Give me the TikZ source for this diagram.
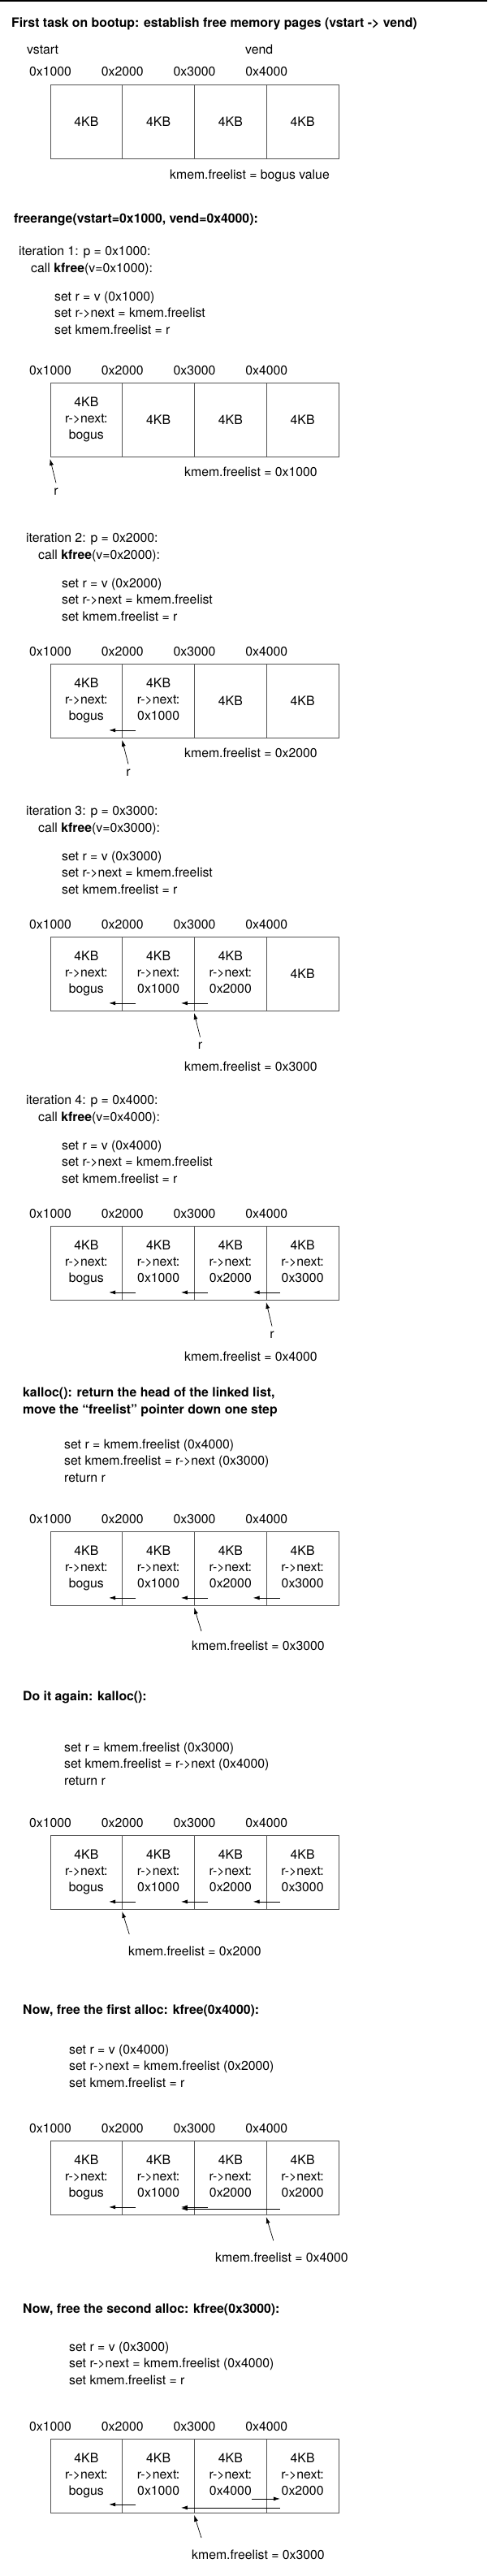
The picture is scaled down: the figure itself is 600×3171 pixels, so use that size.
\documentclass[tikz,border=0pt]{standalone}
\usepackage{fontspec}
\setmainfont{TeX Gyre Heros}
\usetikzlibrary{arrows.meta}
\definecolor{pageline}{RGB}{85,85,85}

% one row of four 4KB pages with their start addresses
\newcommand{\pagerow}[6]{%
  \node[page] (#1a) at (106.375,#2+45.75) {#3};
  \node[page] (#1b) at (195.125,#2+45.75) {#4};
  \node[page] (#1c) at (283.875,#2+45.75) {#5};
  \node[page] (#1d) at (372.625,#2+45.75) {#6};
  \node[addr] (#1x1) at (62,#2-10) {0x1000};
  \node[addr] (#1x2) at (150.75,#2-10) {0x2000};
  \node[addr] (#1x3) at (239.5,#2-10) {0x3000};
  \node[addr] (#1x4) at (328.25,#2-10) {0x4000};
}
\newcommand{\cellstrut}{\rule[-4pt]{0pt}{20pt}}

\begin{document}
\begin{tikzpicture}[x=1pt,y=-1pt,
  font=\fontsize{15.8}{20.3}\selectfont,
  page/.style={draw=pageline,line width=0.8pt,minimum width=88.75pt,minimum height=91.5pt,inner sep=0pt,align=center,
    execute at begin node=\cellstrut,execute at end node=\cellstrut},
  addr/.style={anchor=base,inner sep=0pt},
  txt/.style={anchor=base west,inner sep=0pt,align=left},
  rlab/.style={inner sep=6pt},
  ptr/.style={-{Latex[length=8pt,width=5pt]},line width=0.7pt}]
\useasboundingbox (0,0) rectangle (600,3171);
\fill (0,0) rectangle (600,2.5);

% Bootup (multi-line texts are placed at their last baseline)
\node[txt] (title) at (14,34) {\textbf{First task on bootup: establish free memory pages (vstart -> vend)}};
\node[txt] (vstart) at (33,67) {vstart};
\node[txt] (vend) at (302,67) {vend};
\pagerow{boot}{104}{4KB}{4KB}{4KB}{4KB}
\node[txt] (fl0) at (209,220) {kmem.freelist = bogus value};

% freerange, iteration 1
\node[txt] (frange) at (17,274) {\textbf{freerange(vstart=0x1000, vend=0x4000):}};
\node[txt] (it1head) at (23,314) {iteration 1: p = 0x1000:};
\node[txt] (it1call) at (38,335) {call \textbf{kfree}(v=0x1000):};
\node[txt] (it1set) at (67,411) {set r = v (0x1000)\\set r->next = kmem.freelist\\set kmem.freelist = r};
\pagerow{it1}{471}{4KB\\r->next:\\bogus}{4KB}{4KB}{4KB}
\node[rlab] (r1) at (69,605) {r};
\draw[ptr] (r1.north) -- ([yshift=-2pt]it1a.south west);
\node[txt] (fl1) at (227,586) {kmem.freelist = 0x1000};

% iteration 2
\node[txt] (it2head) at (32,667) {iteration 2: p = 0x2000:};
\node[txt] (it2call) at (47,688) {call \textbf{kfree}(v=0x2000):};
\node[txt] (it2set) at (76,764) {set r = v (0x2000)\\set r->next = kmem.freelist\\set kmem.freelist = r};
\pagerow{it2}{817}{4KB\\r->next:\\bogus}{4KB\\r->next:\\0x1000}{4KB}{4KB}
\draw[ptr] ([xshift=17pt,yshift=10pt]it2b.south west) -- ([xshift=-17pt,yshift=10pt]it2a.south east);
\node[rlab] (r2) at (158,951) {r};
\draw[ptr] (r2.north) -- ([yshift=-2pt]it2b.south west);
\node[txt] (fl2) at (227,932) {kmem.freelist = 0x2000};

% iteration 3
\node[txt] (it3head) at (32,1003) {iteration 3: p = 0x3000:};
\node[txt] (it3call) at (47,1024) {call \textbf{kfree}(v=0x3000):};
\node[txt] (it3set) at (76,1100) {set r = v (0x3000)\\set r->next = kmem.freelist\\set kmem.freelist = r};
\pagerow{it3}{1153}{4KB\\r->next:\\bogus}{4KB\\r->next:\\0x1000}{4KB\\r->next:\\0x2000}{4KB}
\draw[ptr] ([xshift=17pt,yshift=10pt]it3b.south west) -- ([xshift=-17pt,yshift=10pt]it3a.south east);
\draw[ptr] ([xshift=17pt,yshift=10pt]it3c.south west) -- ([xshift=-17pt,yshift=10pt]it3b.south east);
\node[rlab] (r3) at (246.5,1287) {r};
\draw[ptr] (r3.north) -- ([yshift=-2pt]it3c.south west);
\node[txt] (fl3) at (227,1318) {kmem.freelist = 0x3000};

% iteration 4
\node[txt] (it4head) at (32,1359) {iteration 4: p = 0x4000:};
\node[txt] (it4call) at (47,1380) {call \textbf{kfree}(v=0x4000):};
\node[txt] (it4set) at (76,1456) {set r = v (0x4000)\\set r->next = kmem.freelist\\set kmem.freelist = r};
\pagerow{it4}{1509}{4KB\\r->next:\\bogus}{4KB\\r->next:\\0x1000}{4KB\\r->next:\\0x2000}{4KB\\r->next:\\0x3000}
\draw[ptr] ([xshift=17pt,yshift=10pt]it4b.south west) -- ([xshift=-17pt,yshift=10pt]it4a.south east);
\draw[ptr] ([xshift=17pt,yshift=10pt]it4c.south west) -- ([xshift=-17pt,yshift=10pt]it4b.south east);
\draw[ptr] ([xshift=17pt,yshift=10pt]it4d.south west) -- ([xshift=-17pt,yshift=10pt]it4c.south east);
\node[rlab] (r4) at (335,1643) {r};
\draw[ptr] (r4.north) -- ([yshift=-2pt]it4d.south west);
\node[txt] (fl4) at (227,1675) {kmem.freelist = 0x4000};

% kalloc
\node[txt] (ka1head) at (28,1740) {\textbf{kalloc(): return the head of the linked list,}\\\textbf{move the “freelist” pointer down one step}};
\node[txt] (ka1set) at (79,1824) {set r = kmem.freelist (0x4000)\\set kmem.freelist = r->next (0x3000)\\return r};
\pagerow{ka1}{1885}{4KB\\r->next:\\bogus}{4KB\\r->next:\\0x1000}{4KB\\r->next:\\0x2000}{4KB\\r->next:\\0x3000}
\draw[ptr] ([xshift=17pt,yshift=10pt]ka1b.south west) -- ([xshift=-17pt,yshift=10pt]ka1a.south east);
\draw[ptr] ([xshift=17pt,yshift=10pt]ka1c.south west) -- ([xshift=-17pt,yshift=10pt]ka1b.south east);
\draw[ptr] ([xshift=17pt,yshift=10pt]ka1d.south west) -- ([xshift=-17pt,yshift=10pt]ka1c.south east);
\coordinate (t1) at (248,2008);
\draw[ptr] (t1) -- ([yshift=-2pt]ka1c.south west);
\node[txt] (fl5) at (236,2031) {kmem.freelist = 0x3000};

% kalloc again
\node[txt] (ka2head) at (28,2093) {\textbf{Do it again: kalloc():}};
\node[txt] (ka2set) at (79,2197) {set r = kmem.freelist (0x3000)\\set kmem.freelist = r->next (0x4000)\\return r};
\pagerow{ka2}{2259}{4KB\\r->next:\\bogus}{4KB\\r->next:\\0x1000}{4KB\\r->next:\\0x2000}{4KB\\r->next:\\0x3000}
\draw[ptr] ([xshift=17pt,yshift=10pt]ka2b.south west) -- ([xshift=-17pt,yshift=10pt]ka2a.south east);
\draw[ptr] ([xshift=17pt,yshift=10pt]ka2c.south west) -- ([xshift=-17pt,yshift=10pt]ka2b.south east);
\draw[ptr] ([xshift=17pt,yshift=10pt]ka2d.south west) -- ([xshift=-17pt,yshift=10pt]ka2c.south east);
\coordinate (t2) at (159.25,2381);
\draw[ptr] (t2) -- ([yshift=-2pt]ka2b.south west);
\node[txt] (fl6) at (158,2407) {kmem.freelist = 0x2000};

% free the first alloc
\node[txt] (fr1head) at (28,2479) {\textbf{Now, free the first alloc: kfree(0x4000):}};
\node[txt] (fr1set) at (85,2569) {set r = v (0x4000)\\set r->next = kmem.freelist (0x2000)\\set kmem.freelist = r};
\pagerow{fr1}{2635}{4KB\\r->next:\\bogus}{4KB\\r->next:\\0x1000}{4KB\\r->next:\\0x2000}{4KB\\r->next:\\0x2000}
\draw[ptr] ([xshift=17pt,yshift=10pt]fr1b.south west) -- ([xshift=-17pt,yshift=10pt]fr1a.south east);
\draw[ptr] ([xshift=17pt,yshift=10pt]fr1c.south west) -- ([xshift=-17pt,yshift=10pt]fr1b.south east);
\draw[ptr] ([xshift=17pt,yshift=8pt]fr1d.south west) -- ([xshift=-17pt,yshift=8pt]fr1b.south east);
\coordinate (t3) at (336.75,2758);
\draw[ptr] (t3) -- ([yshift=-2pt]fr1d.south west);
\node[txt] (fl7) at (265,2784) {kmem.freelist = 0x4000};

% free the second alloc
\node[txt] (fr2head) at (28,2847) {\textbf{Now, free the second alloc: kfree(0x3000):}};
\node[txt] (fr2set) at (85,2935) {set r = v (0x3000)\\set r->next = kmem.freelist (0x4000)\\set kmem.freelist = r};
\pagerow{fr2}{3002}{4KB\\r->next:\\bogus}{4KB\\r->next:\\0x1000}{4KB\\r->next:\\0x4000}{4KB\\r->next:\\0x2000}
\draw[ptr] ([xshift=17pt,yshift=11pt]fr2b.south west) -- ([xshift=-17pt,yshift=11pt]fr2a.south east);
\draw[ptr] ([xshift=17pt,yshift=7pt]fr2d.south west) -- ([xshift=-17pt,yshift=7pt]fr2b.south east);
\draw[ptr] ([xshift=-18pt,yshift=18pt]fr2d.south west) -- ([xshift=17pt,yshift=18pt]fr2d.south west);
\coordinate (t4) at (248,3124);
\draw[ptr] (t4) -- ([yshift=-2pt]fr2c.south west);
\node[txt] (fl8) at (236,3150) {kmem.freelist = 0x3000};
\end{tikzpicture}
\end{document}
